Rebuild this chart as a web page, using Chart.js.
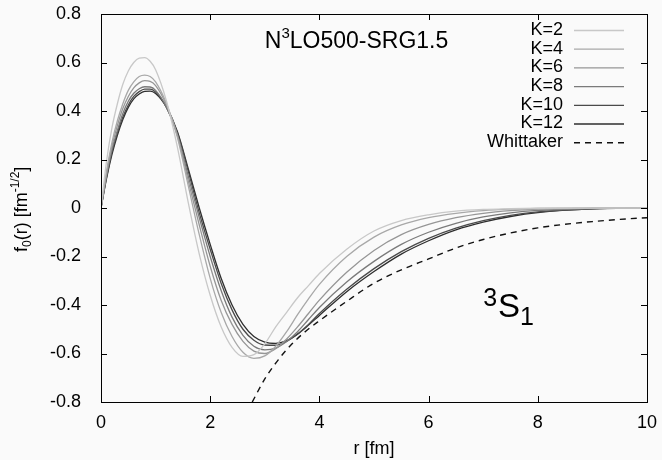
<!DOCTYPE html>
<html>
<head>
<meta charset="utf-8">
<script src="https://cdn.jsdelivr.net/npm/chart.js@4.4.1/dist/chart.umd.min.js"></script>
<style>
  html, body { margin: 0; padding: 0; background: #fafafa; }
  canvas { display: block; }
</style>
</head>
<body>
<canvas id="chart" width="662" height="460"></canvas>
<script>
// r grid (fm) for the K curves
const rK = [0, 0.1, 0.2, 0.3, 0.4, 0.5, 0.6, 0.7, 0.8, 0.9, 1.0, 1.2, 1.4, 1.6, 1.8, 2.0, 2.2, 2.4, 2.6, 2.8,
            3.0, 3.2, 3.4, 3.6, 3.8, 4.0, 4.5, 5.0, 5.5, 6.0, 6.5, 7.0, 7.5, 8.0, 9.0, 10.0];

const k2  = [0, 0.19, 0.33, 0.43, 0.51, 0.565, 0.60, 0.618, 0.62, 0.605, 0.57, 0.44, 0.25, 0.02, -0.19, -0.36, -0.49, -0.575, -0.612, -0.605,
             -0.56, -0.49, -0.43, -0.37, -0.32, -0.27, -0.17, -0.095, -0.052, -0.028, -0.013, -0.006, -0.003, -0.001, 0, 0];
const k4  = [0, 0.15, 0.27, 0.36, 0.43, 0.485, 0.52, 0.542, 0.548, 0.542, 0.52, 0.43, 0.29, 0.09, -0.11, -0.29, -0.43, -0.53, -0.595, -0.62,
             -0.61, -0.57, -0.51, -0.44, -0.375, -0.315, -0.2, -0.12, -0.07, -0.04, -0.022, -0.011, -0.005, -0.002, 0, 0];
const k6  = [0, 0.14, 0.255, 0.34, 0.41, 0.46, 0.495, 0.516, 0.525, 0.522, 0.505, 0.425, 0.30, 0.11, -0.07, -0.24, -0.38, -0.48, -0.55, -0.59,
             -0.60, -0.58, -0.54, -0.49, -0.435, -0.38, -0.265, -0.175, -0.11, -0.068, -0.04, -0.022, -0.011, -0.005, -0.001, 0];
const k8  = [0, 0.13, 0.24, 0.32, 0.39, 0.44, 0.473, 0.492, 0.50, 0.499, 0.485, 0.415, 0.30, 0.13, -0.04, -0.20, -0.34, -0.45, -0.525, -0.57,
             -0.585, -0.578, -0.55, -0.51, -0.46, -0.41, -0.305, -0.22, -0.15, -0.10, -0.063, -0.037, -0.02, -0.01, -0.002, 0];
const k10 = [0, 0.125, 0.23, 0.31, 0.375, 0.425, 0.46, 0.48, 0.49, 0.49, 0.478, 0.415, 0.31, 0.15, -0.02, -0.17, -0.31, -0.42, -0.50, -0.545,
             -0.565, -0.566, -0.55, -0.52, -0.48, -0.435, -0.335, -0.25, -0.18, -0.125, -0.083, -0.052, -0.03, -0.016, -0.003, 0];
const k12 = [0, 0.12, 0.22, 0.30, 0.365, 0.415, 0.45, 0.47, 0.481, 0.482, 0.472, 0.415, 0.315, 0.16, 0.0, -0.15, -0.29, -0.40, -0.48, -0.53,
             -0.553, -0.558, -0.547, -0.52, -0.483, -0.443, -0.345, -0.262, -0.19, -0.135, -0.09, -0.058, -0.035, -0.019, -0.004, 0];

// Whittaker asymptotic tail
const rW = [2.77, 3.0, 3.25, 3.5, 3.75, 4.0, 4.5, 5.0, 5.5, 6.0, 6.5, 7.0, 7.5, 8.0, 8.5, 9.0, 9.5, 10.0];
const whit = [-0.8, -0.705, -0.625, -0.56, -0.508, -0.465, -0.385, -0.31, -0.255, -0.21, -0.165, -0.13, -0.103, -0.082, -0.067, -0.056, -0.047, -0.04];

const labels = ['K=2', 'K=4', 'K=6', 'K=8', 'K=10', 'K=12', 'Whittaker'];
const series = [k2, k4, k6, k8, k10, k12];
const greys = ['#c8c8c8', '#a8a8a8', '#969696', '#7a7a7a', '#4a4a4a', '#2e2e2e'];

const FONT = '"Liberation Sans", Arial, sans-serif';
const toPts = (xs, ys) => xs.map((x, i) => ({ x: x, y: ys[i] }));

const datasets = series.map((s, i) => ({
    label: labels[i],
    data: toPts(rK, s),
    borderColor: greys[i],
    borderWidth: 1.3,
    pointRadius: 0,
    cubicInterpolationMode: 'monotone',
    fill: false,
}));
datasets.push({
    label: labels[6],
    data: toPts(rW, whit),
    borderColor: '#111',
    borderWidth: 1.4,
    borderDash: [6, 5],
    pointRadius: 0,
    cubicInterpolationMode: 'monotone',
    fill: false,
});

// frame, inward ticks, legend and text labels (gnuplot look)
const gnuplotDeco = {
    id: 'gnuplotDeco',
    beforeDraw(chart) {
        const c = chart.ctx;
        c.save();
        c.fillStyle = '#fafafa';
        c.fillRect(0, 0, chart.width, chart.height);
        c.restore();
    },
    afterDraw(chart) {
        const c = chart.ctx;
        const a = chart.chartArea;
        const xs = chart.scales.x, ys = chart.scales.y;
        c.save();
        c.strokeStyle = '#000';
        c.lineWidth = 1;
        c.strokeRect(a.left + 0.5, a.top + 0.5, a.right - a.left, a.bottom - a.top);
        const tl = 6;
        c.beginPath();
        xs.ticks.forEach(t => {
            const px = Math.round(xs.getPixelForValue(t.value)) + 0.5;
            c.moveTo(px, a.bottom); c.lineTo(px, a.bottom - tl);
            c.moveTo(px, a.top); c.lineTo(px, a.top + tl);
        });
        ys.ticks.forEach(t => {
            const py = Math.round(ys.getPixelForValue(t.value)) + 0.5;
            c.moveTo(a.left, py); c.lineTo(a.left + tl, py);
            c.moveTo(a.right, py); c.lineTo(a.right - tl, py);
        });
        c.stroke();

        // legend, text right aligned, sample on the right
        c.font = '18px ' + FONT;
        c.textAlign = 'right';
        c.textBaseline = 'middle';
        chart.data.datasets.forEach((ds, i) => {
            const y = a.top + 16 + i * 18.7;
            c.fillStyle = '#000';
            c.fillText(ds.label, a.right - 84, y);
            c.strokeStyle = ds.borderColor;
            c.lineWidth = ds.borderWidth;
            c.setLineDash(ds.borderDash || []);
            c.beginPath();
            c.moveTo(a.right - 73, y + 0.5);
            c.lineTo(a.right - 23, y + 0.5);
            c.stroke();
        });
        c.setLineDash([]);

        c.fillStyle = '#000';
        c.textAlign = 'left';
        c.textBaseline = 'alphabetic';
        // N^3LO500-SRG1.5
        let x = xs.getPixelForValue(3.0), y = ys.getPixelForValue(0.66);
        c.font = '23px ' + FONT;
        c.fillText('N', x, y); x += c.measureText('N').width;
        c.font = '15px ' + FONT;
        c.fillText('3', x, y - 10); x += c.measureText('3').width;
        c.font = '23px ' + FONT;
        c.fillText('LO500-SRG1.5', x, y);

        // ^3S_1
        x = xs.getPixelForValue(7.0); y = ys.getPixelForValue(-0.45);
        c.font = '25px ' + FONT;
        c.fillText('3', x, y - 11); x += c.measureText('3').width + 1;
        c.font = '33px ' + FONT;
        c.fillText('S', x, y); x += c.measureText('S').width;
        c.font = '25px ' + FONT;
        c.fillText('1', x, y + 8);

        // y axis title f_0(r) [fm^-1/2]
        c.translate(27, 252);
        c.rotate(-Math.PI / 2);
        x = 0;
        c.font = '18px ' + FONT;
        c.fillText('f', x, 0); x += c.measureText('f').width;
        c.font = '12px ' + FONT;
        c.fillText('0', x, 4); x += c.measureText('0').width;
        c.font = '18px ' + FONT;
        c.fillText('(r) [fm', x, 0); x += c.measureText('(r) [fm').width;
        c.font = '12px ' + FONT;
        c.fillText('-1/2', x, -8); x += c.measureText('-1/2').width;
        c.font = '18px ' + FONT;
        c.fillText(']', x, 0);
        c.restore();
    }
};

new Chart(document.getElementById('chart'), {
    type: 'line',
    data: { datasets: datasets },
    options: {
        responsive: false,
        animation: false,
        layout: { padding: { left: 0, right: 15, top: 14, bottom: 0 } },
        plugins: {
            legend: { display: false },
            tooltip: { enabled: false },
        },
        scales: {
            x: {
                type: 'linear',
                min: 0, max: 10,
                ticks: { stepSize: 2, color: '#000', font: { family: FONT, size: 18 }, padding: 2, maxRotation: 0 },
                grid: { display: false },
                border: { display: false },
                title: { display: true, text: 'r [fm]', color: '#000', font: { family: FONT, size: 18 }, padding: { top: 0, bottom: 0 } },
                afterFit: s => { s.height = 58; s.paddingLeft = 0; s.paddingRight = 0; },
            },
            y: {
                min: -0.8, max: 0.8,
                ticks: { stepSize: 0.2, color: '#000', font: { family: FONT, size: 18 }, padding: 12 },
                grid: { display: false },
                border: { display: false },
                afterFit: s => { s.width = 101; s.paddingTop = 0; s.paddingBottom = 0; },
            },
        },
    },
    plugins: [gnuplotDeco],
});
</script>
</body>
</html>
